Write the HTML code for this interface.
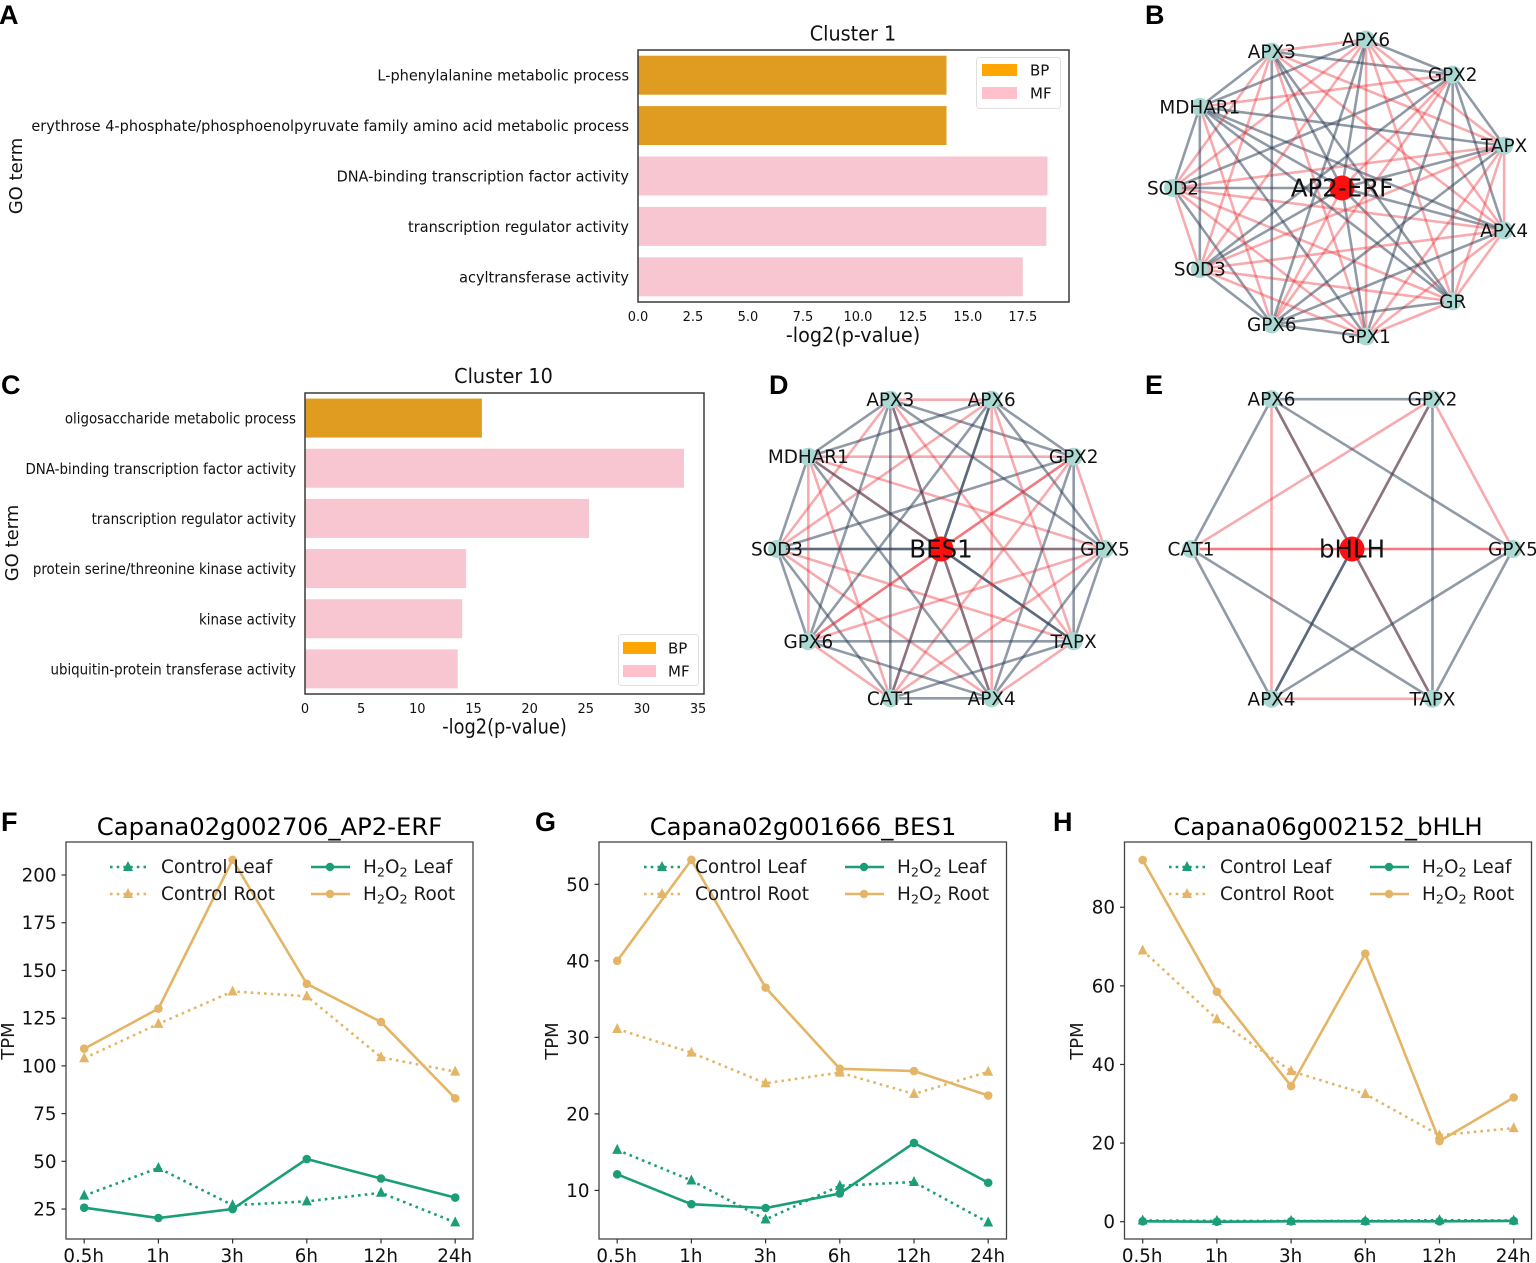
<!DOCTYPE html>
<html lang="en">
<head>
<meta charset="utf-8">
<title>Transcription factor networks and expression</title>
<style>
html,body{margin:0;padding:0;background:#fff;}
svg{display:block;}
text{font-family:"DejaVu Sans","Liberation Sans",sans-serif;fill:#111;}
.letter{font-family:"Liberation Sans",sans-serif;font-weight:bold;font-size:27px;fill:#000;}
.lg{font-size:18.4px;fill:#1a1a1a;}
.ttl{font-size:24.3px;text-anchor:middle;fill:#000;}
.axl{font-size:18px;fill:#1a1a1a;text-anchor:middle;}
</style>
</head>
<body>
<svg id="fig" xmlns="http://www.w3.org/2000/svg" width="1536" height="1263" viewBox="0 0 1536 1263">
  <rect x="0" y="0" width="1536" height="1263" fill="#fff"/>
  <g id="layer"></g>

  <g>
    <text class="letter" x="-1" y="24">A</text>
    <text class="letter" x="1145" y="24">B</text>
    <text class="letter" x="1" y="394">C</text>
    <text class="letter" x="769" y="394">D</text>
    <text class="letter" x="1145" y="394">E</text>
    <text class="letter" x="1" y="831">F</text>
    <text class="letter" x="535" y="831">G</text>
    <text class="letter" x="1053" y="831">H</text>
  </g>

  <g>
    <text transform="translate(853,40.5) scale(.96,1)" font-size="20" text-anchor="middle">Cluster 1</text>
    <text transform="translate(853,342) scale(.96,1)" font-size="20" text-anchor="middle" fill="#222">-log2(p-value)</text>
    <text transform="translate(22,176) rotate(-90)" font-size="18" text-anchor="middle" fill="#222">GO term</text>
  </g>
  <g>
    <text transform="translate(503.5,383) scale(.96,1)" font-size="20" text-anchor="middle">Cluster 10</text>
    <text transform="translate(504.5,733.500) scale(.89,1)" font-size="20" text-anchor="middle" fill="#222">-log2(p-value)</text>
    <text transform="translate(18,543) rotate(-90)" font-size="18" text-anchor="middle" fill="#222">GO term</text>
  </g>

  <g>
    <text class="ttl" x="269.5" y="835">Capana02g002706_AP2-ERF</text>
    <text class="axl" transform="translate(14,1041) rotate(-90)">TPM</text>
  </g>
  <g>
    <text class="ttl" x="803" y="835">Capana02g001666_BES1</text>
    <text class="axl" transform="translate(558,1041) rotate(-90)">TPM</text>
  </g>
  <g>
    <text class="ttl" x="1328" y="835">Capana06g002152_bHLH</text>
    <text class="axl" transform="translate(1083,1041) rotate(-90)">TPM</text>
  </g>

  <defs>
    <g id="expr-legend">
      <line x1="110" y1="867" x2="146" y2="867" stroke="#1b9e77" stroke-width="2.6" stroke-dasharray="2.6 4.1"/>
      <polygon points="128,861 123,871 133,871" fill="#1b9e77"/>
      <text class="lg" x="161" y="873">Control Leaf</text>
      <line x1="110" y1="894" x2="146" y2="894" stroke="#e4b566" stroke-width="2.6" stroke-dasharray="2.6 4.1"/>
      <polygon points="128,888 123,898 133,898" fill="#e4b566"/>
      <text class="lg" x="161" y="900">Control Root</text>
      <line x1="311" y1="867" x2="350" y2="867" stroke="#1b9e77" stroke-width="2.6"/>
      <circle cx="330" cy="867" r="4.2" fill="#1b9e77"/>
      <text class="lg" x="363" y="873">H<tspan font-size="12.8" dy="3.5">2</tspan><tspan dy="-3.5">O</tspan><tspan font-size="12.8" dy="3.5">2</tspan><tspan dy="-3.5"> Leaf</tspan></text>
      <line x1="311" y1="894" x2="350" y2="894" stroke="#e4b566" stroke-width="2.6"/>
      <circle cx="330" cy="894" r="4.2" fill="#e4b566"/>
      <text class="lg" x="363" y="900">H<tspan font-size="12.8" dy="3.5">2</tspan><tspan dy="-3.5">O</tspan><tspan font-size="12.8" dy="3.5">2</tspan><tspan dy="-3.5"> Root</tspan></text>
    </g>
  </defs>
  <g id="legends">
    <use href="#expr-legend"/>
    <use href="#expr-legend" x="534"/>
    <use href="#expr-legend" x="1059"/>
  </g>

  <g>
    <rect x="976.5" y="57.5" width="84" height="51" rx="3" fill="#fff" fill-opacity=".85" stroke="#dfdfdf" stroke-width="1"/>
    <rect x="982" y="64" width="35" height="12" fill="#ffa500"/>
    <rect x="982" y="87" width="35" height="12" fill="#ffc0cb"/>
    <text x="1030" y="75.500" font-size="15" fill="#222">BP</text>
    <text x="1030" y="98.500" font-size="15" fill="#222">MF</text>
  </g>
  <g>
    <rect x="618.500" y="634.500" width="80" height="51" rx="3" fill="#fff" fill-opacity=".85" stroke="#dfdfdf" stroke-width="1"/>
    <rect x="623" y="642" width="33" height="12" fill="#ffa500"/>
    <rect x="623" y="665" width="33" height="12" fill="#ffc0cb"/>
    <text x="668" y="653.500" font-size="15" fill="#222">BP</text>
    <text x="668" y="676.500" font-size="15" fill="#222">MF</text>
  </g>
</svg>

<script>
/* ---------- GO enrichment data ---------- */
const cluster1Terms = ["L-phenylalanine metabolic process","erythrose 4-phosphate/phosphoenolpyruvate family amino acid metabolic process","DNA-binding transcription factor activity","transcription regulator activity","acyltransferase activity"];
const cluster1Values = [14.03,14.03,18.62,18.57,17.5];
const cluster1Classes = ["BP","BP","MF","MF","MF"];
const cluster1Ticks = ["0.0","2.5","5.0","7.5","10.0","12.5","15.0","17.5"];

const cluster10Terms = ["oligosaccharide metabolic process","DNA-binding transcription factor activity","transcription regulator activity","protein serine/threonine kinase activity","kinase activity","ubiquitin-protein transferase activity"];
const cluster10Values = [15.75,33.75,25.3,14.35,14.0,13.6];
const cluster10Classes = ["BP","MF","MF","MF","MF","MF"];
const cluster10Ticks = ["0","5","10","15","20","25","30","35"];

/* ---------- network data ---------- */
const networkBNodes = ["SOD2","MDHAR1","APX3","APX6","GPX2","TAPX","APX4","GR","GPX1","GPX6","SOD3"];
const networkBSlateEdges = [["MDHAR1","SOD2"],["MDHAR1","SOD3"],["MDHAR1","APX3"],["MDHAR1","APX6"],["MDHAR1","TAPX"],["MDHAR1","APX4"],["MDHAR1","GR"],["MDHAR1","GPX1"],["APX3","GPX2"],["APX3","GPX6"],["APX3","GR"],["APX6","GPX2"],["APX6","GPX6"],["GPX2","SOD2"],["GPX2","SOD3"],["GPX2","GR"],["GPX2","TAPX"],["GPX2","APX4"],["GPX2","GPX1"],["TAPX","GPX6"],["APX4","GPX6"],["GR","GPX6"],["GPX1","GPX6"],["GPX6","SOD2"],["GPX6","SOD3"]];
const networkBHubSlate = ["SOD2","SOD3","APX3","APX6","TAPX","APX4","GR","GPX1","MDHAR1"];

const networkDNodes = ["SOD3","MDHAR1","APX3","APX6","GPX2","GPX5","TAPX","APX4","CAT1","GPX6"];
const networkDSlateEdges = [["MDHAR1","SOD3"],["MDHAR1","APX3"],["MDHAR1","APX6"],["MDHAR1","APX4"],["MDHAR1","TAPX"],["APX3","GPX2"],["APX3","GPX5"],["APX3","CAT1"],["APX3","GPX6"],["APX3","APX4"],["APX6","GPX2"],["APX6","GPX5"],["APX6","GPX6"],["APX6","CAT1"],["GPX2","TAPX"],["GPX2","APX4"],["GPX2","SOD3"],["GPX5","TAPX"],["GPX5","APX4"],["SOD3","GPX5"],["TAPX","CAT1"],["TAPX","GPX6"],["APX4","CAT1"],["APX4","GPX6"],["CAT1","SOD3"],["GPX6","SOD3"]];
const networkDHubSlate = ["SOD3","APX6","TAPX"];

const networkENodes = ["CAT1","APX6","GPX2","GPX5","TAPX","APX4"];
const networkESlateEdges = [["APX6","TAPX"],["GPX2","APX4"],["CAT1","APX6"],["CAT1","TAPX"],["CAT1","APX4"],["APX6","GPX2"],["APX6","GPX5"],["GPX2","TAPX"],["GPX5","TAPX"],["GPX5","APX4"]];
const networkEHubSlate = ["APX4"];

/* ---------- expression data ---------- */
const timepoints = ["0.5h","1h","3h","6h","12h","24h"];

const fTicks = [25,50,75,100,125,150,175,200];
const fControlLeaf = [32,46.5,27,29,33.5,18];
const fControlRoot = [104,122,139,136.5,104.5,97];
const fH2o2Leaf = [25.7,20.3,25,51.2,41,31];
const fH2o2Root = [109,130,208,143,123,83];

const gTicks = [10,20,30,40,50];
const gControlLeaf = [15.3,11.3,6.2,10.6,11.1,5.8];
const gControlRoot = [31.1,28,24,25.4,22.6,25.5];
const gH2o2Leaf = [12.1,8.2,7.7,9.6,16.2,11];
const gH2o2Root = [40,53.2,36.5,25.9,25.6,22.4];

const hTicks = [0,20,40,60,80];
const hControlLeaf = [0.3,0.2,0.2,0.2,0.4,0.3];
const hControlRoot = [69,51.5,38.3,32.5,22,23.8];
const hH2o2Leaf = [0.1,0,0.1,0.1,0.1,0.2];
const hH2o2Root = [92,58.5,34.5,68.2,20.5,31.6];

/* ---------- helpers ---------- */
const NS = "http://www.w3.org/2000/svg";
const layer = document.getElementById("layer");
function mk(tag, attrs, parent){
  const n = document.createElementNS(NS, tag);
  for(const k in attrs){ n.setAttribute(k, attrs[k]); }
  (parent || layer).appendChild(n);
  return n;
}
function linear(d0,d1,r0,r1){ return v => r0 + (v-d0)*(r1-r0)/(d1-d0); }

/* ---------- GO bar charts ---------- */
function drawBars(box, xMax, terms, values, classes, ticks, labelScale){
  const x = linear(0,xMax,box.l,box.r);
  const band = (box.b-box.t-box.pad*2)/terms.length;
  const bandY = i => box.t + box.pad + band*(i+0.5);
  const group = mk("g",{});
  
  
  terms.forEach((term,i)=>{
    const bar = mk("rect",{x:x(0),y:bandY(i)-19.5,width:x(values[i])-x(0),height:39,fill:classes[i]==="BP"?"#df9c20":"#f7c6d0"},group);
    
    
    const lab = mk("text",{transform:`translate(${box.l-9},${bandY(i)+5.5}) scale(${labelScale},1)`,"font-size":15,"text-anchor":"end",fill:"#222"},group);
    lab.textContent = term;
    
    
  });
  const frame = mk("rect",{x:box.l,y:box.t,width:box.r-box.l,height:box.b-box.t,fill:"none",stroke:"#3a3a3a","stroke-width":1.5},group);
  
  
  ticks.forEach(tk=>{
    const lab = mk("text",{transform:`translate(${x(parseFloat(tk))},${box.b+19}) scale(.96,1)`,"font-size":13.5,"text-anchor":"middle",fill:"#222"},group);
    lab.textContent = tk;
    
    
  });
}
drawBars({l:638,r:1069,t:50,b:302,pad:0,name:"cluster-1-bar-chart"},19.6,cluster1Terms,cluster1Values,cluster1Classes,cluster1Ticks,0.966);
drawBars({l:305,r:704,t:393,b:694,pad:0,name:"cluster-10-bar-chart"},35.53,cluster10Terms,cluster10Values,cluster10Classes,cluster10Ticks,0.893);

/* ---------- networks ---------- */
const RED = "rgba(235,55,62,.42)";
const SLATE = "rgba(44,62,86,.52)";
function drawNetwork(cfg, nodes, slateEdges, hubSlate, hubName){
  const n = nodes.length;
  const group = mk("g",{});
  
  
  const pos = {};
  nodes.forEach((name,k)=>{
    const a = Math.PI - k*2*Math.PI/n;
    pos[name] = [cfg.cx + cfg.rx*Math.cos(a), cfg.cy - cfg.ry*Math.sin(a)];
  });
  const isSlate = (a,b)=>slateEdges.some(e=>(e[0]===a&&e[1]===b)||(e[0]===b&&e[1]===a));
  nodes.forEach(a=>{
    const edge = mk("line",{x1:cfg.cx,y1:cfg.cy,x2:pos[a][0],y2:pos[a][1],stroke:hubSlate.includes(a)?SLATE:RED,"stroke-width":2.6},group);
    
    
  });
  for(let i=0;i<n;i++){
    for(let j=i+1;j<n;j++){
      const a = nodes[i], b = nodes[j];
      const edge = mk("line",{x1:pos[a][0],y1:pos[a][1],x2:pos[b][0],y2:pos[b][1],stroke:isSlate(a,b)?SLATE:RED,"stroke-width":2.6},group);
      
      
    }
  }
  nodes.forEach(a=>{
    const dot = mk("circle",{cx:pos[a][0],cy:pos[a][1],r:9,fill:"#a9d9d2"},group);
    
    
  });
  const hub = mk("circle",{cx:cfg.cx,cy:cfg.cy,r:12.5,fill:"#fb0f0f"},group);
  
  
  nodes.forEach(a=>{
    const lab = mk("text",{x:pos[a][0],y:pos[a][1]+6.5,"font-size":18.4,"text-anchor":"middle",fill:"#000"},group);
    lab.textContent = a;
    
    
  });
  const hubLab = mk("text",{x:cfg.cx,y:cfg.cy+8.5,"font-size":24.5,"text-anchor":"middle",fill:"#000"},group);
  hubLab.textContent = hubName;
  
  
}
drawNetwork({cx:1342,cy:188,rx:169,ry:150,name:"ap2-erf-network"},networkBNodes,networkBSlateEdges,networkBHubSlate,"AP2-ERF");
drawNetwork({cx:941,cy:549,rx:164,ry:157,name:"bes1-network"},networkDNodes,networkDSlateEdges,networkDHubSlate,"BES1");
drawNetwork({cx:1352,cy:549,rx:161,ry:173,name:"bhlh-network"},networkENodes,networkESlateEdges,networkEHubSlate,"bHLH");

/* ---------- expression line charts ---------- */
const GREEN = "#1b9e77";
const GOLD = "#e4b566";
function drawLines(box, dom, ticks, cl, cr, hl, hr){
  const x = i => box.l + 18.2 + i*74.2;
  const y = linear(dom[0],dom[1],box.b,box.t);
  const group = mk("g",{});
  
  
  const frame = mk("rect",{x:box.l,y:box.t,width:box.r-box.l,height:box.b-box.t,fill:"none",stroke:"#444","stroke-width":1.3},group);
  
  
  ticks.forEach(v=>{
    const tk = mk("line",{x1:box.l-4.5,x2:box.l,y1:y(v),y2:y(v),stroke:"#333","stroke-width":1.2},group);
    
    
    const lab = mk("text",{x:box.l-9.5,y:y(v)+6.5,"font-size":18.3,"text-anchor":"end",fill:"#111"},group);
    lab.textContent = v;
    
    
  });
  timepoints.forEach((tp,i)=>{
    const tk = mk("line",{x1:x(i),x2:x(i),y1:box.b,y2:box.b+4.5,stroke:"#333","stroke-width":1.2},group);
    
    
    const lab = mk("text",{x:x(i)-0.5,y:box.b+23,"font-size":18.3,"text-anchor":"middle",fill:"#111"},group);
    lab.textContent = tp;
    
    
  });
  const pts = vals => vals.map((v,i)=>x(i)+","+y(v)).join(" ");
  const series = [
    {vals:cl,color:GREEN,dash:true},
    {vals:cr,color:GOLD,dash:true},
    {vals:hl,color:GREEN,dash:false},
    {vals:hr,color:GOLD,dash:false}
  ];
  series.forEach(s=>{
    const attrs = {points:pts(s.vals),fill:"none",stroke:s.color,"stroke-width":2.6};
    if(s.dash){ attrs["stroke-dasharray"] = "2.6 4.1"; }
    const line = mk("polyline",attrs,group);
    
    
    s.vals.forEach((v,i)=>{
      const cx = x(i), cy = y(v);
      if(s.dash){
        const tri = mk("polygon",{points:`${cx},${cy-6} ${cx-5},${cy+4} ${cx+5},${cy+4}`,fill:s.color},group);
        
        
      }else{
        const dot = mk("circle",{cx:cx,cy:cy,r:4.3,fill:s.color},group);
        
        
      }
    });
  });
}
drawLines({l:66,r:473,t:842,b:1239,name:"panel-f-line-chart"},[9.3,217.3],fTicks,fControlLeaf,fControlRoot,fH2o2Leaf,fH2o2Root);
drawLines({l:599,r:1006.5,t:842,b:1239,name:"panel-g-line-chart"},[3.65,55.53],gTicks,gControlLeaf,gControlRoot,gH2o2Leaf,gH2o2Root);
drawLines({l:1124.5,r:1531.5,t:842,b:1239,name:"panel-h-line-chart"},[-4.4,96.6],hTicks,hControlLeaf,hControlRoot,hH2o2Leaf,hH2o2Root);
</script>
</body>
</html>
